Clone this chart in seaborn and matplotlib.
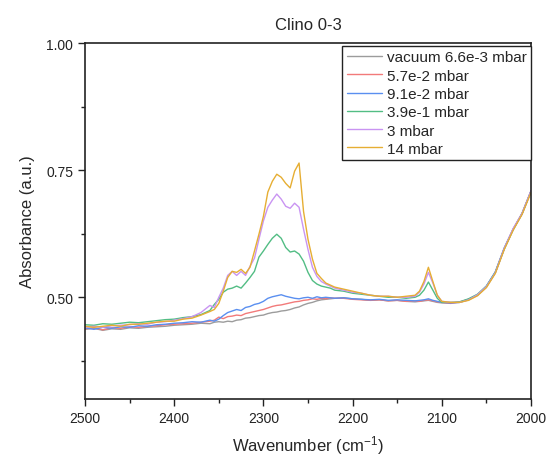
import matplotlib
matplotlib.use("Agg")
import matplotlib.pyplot as plt
from matplotlib.ticker import MultipleLocator, FixedLocator, FormatStrFormatter
import pandas as pd
import seaborn as sns

# Wavenumber grid (cm^-1), denser around the CO2 and 2115 bands
wavenumber = [2500, 2490, 2480, 2470, 2460, 2450, 2440, 2430, 2420, 2410, 2400, 2390, 2380, 2370, 2360,
              2355, 2350, 2345, 2340, 2335, 2330, 2325, 2320, 2315, 2310, 2305, 2300, 2295, 2290,
              2285, 2280, 2275, 2270, 2265, 2260, 2255, 2250, 2245, 2240, 2235, 2230, 2225, 2220,
              2210, 2200, 2190, 2180, 2170, 2160, 2150, 2140,
              2130, 2125, 2120, 2115, 2110, 2105, 2100,
              2090, 2080, 2070, 2060, 2050, 2040, 2030, 2020, 2010, 2000]

abs_vacuum = [0.437, 0.439, 0.435, 0.438, 0.437, 0.440, 0.439, 0.441, 0.442, 0.443, 0.445, 0.446, 0.447, 0.449, 0.448,
              0.451, 0.452, 0.451, 0.453, 0.452, 0.455, 0.456, 0.459, 0.460, 0.462, 0.464, 0.465, 0.468, 0.470,
              0.471, 0.473, 0.474, 0.476, 0.479, 0.481, 0.485, 0.488, 0.490, 0.493, 0.495, 0.496, 0.497, 0.498,
              0.499, 0.497, 0.496, 0.494, 0.495, 0.493, 0.494, 0.492,
              0.491, 0.492, 0.493, 0.494, 0.492, 0.490, 0.489,
              0.489, 0.490, 0.495, 0.504, 0.520, 0.548, 0.595, 0.633, 0.664, 0.708]

abs_57e2 = [0.438, 0.440, 0.436, 0.440, 0.439, 0.442, 0.441, 0.443, 0.444, 0.446, 0.447, 0.448, 0.449, 0.451, 0.453,
            0.455, 0.461, 0.458, 0.462, 0.463, 0.465, 0.464, 0.468, 0.470, 0.472, 0.474, 0.476, 0.479, 0.482,
            0.484, 0.485, 0.487, 0.489, 0.491, 0.492, 0.494, 0.495, 0.497, 0.496, 0.498, 0.497, 0.499, 0.498,
            0.498, 0.496, 0.495, 0.494, 0.495, 0.493, 0.494, 0.492,
            0.493, 0.492, 0.494, 0.495, 0.493, 0.491, 0.490,
            0.488, 0.491, 0.496, 0.505, 0.521, 0.549, 0.596, 0.634, 0.665, 0.709]

abs_91e2 = [0.440, 0.437, 0.441, 0.439, 0.442, 0.441, 0.444, 0.443, 0.446, 0.447, 0.449, 0.450, 0.452, 0.451, 0.455,
            0.453, 0.457, 0.464, 0.470, 0.473, 0.476, 0.474, 0.480, 0.482, 0.486, 0.488, 0.492, 0.498, 0.501,
            0.503, 0.505, 0.502, 0.500, 0.498, 0.497, 0.499, 0.500, 0.498, 0.501, 0.499, 0.500, 0.499, 0.498,
            0.499, 0.497, 0.496, 0.495, 0.496, 0.494, 0.495, 0.494,
            0.493, 0.494, 0.495, 0.497, 0.494, 0.492, 0.490,
            0.489, 0.490, 0.496, 0.504, 0.522, 0.550, 0.597, 0.634, 0.664, 0.709]

abs_39e1 = [0.446, 0.445, 0.448, 0.447, 0.449, 0.451, 0.450, 0.452, 0.454, 0.456, 0.457, 0.460, 0.462, 0.466, 0.474,
            0.486, 0.496, 0.510, 0.516, 0.518, 0.522, 0.518, 0.528, 0.539, 0.551, 0.579, 0.591, 0.604, 0.616,
            0.624, 0.616, 0.598, 0.589, 0.591, 0.585, 0.571, 0.549, 0.533, 0.526, 0.522, 0.520, 0.518, 0.514,
            0.512, 0.508, 0.506, 0.504, 0.502, 0.500, 0.500, 0.498,
            0.500, 0.504, 0.514, 0.530, 0.514, 0.498, 0.490,
            0.490, 0.491, 0.497, 0.506, 0.522, 0.549, 0.595, 0.633, 0.665, 0.708]

abs_3 = [0.441, 0.443, 0.441, 0.444, 0.445, 0.446, 0.448, 0.447, 0.451, 0.452, 0.455, 0.458, 0.462, 0.470, 0.484,
         0.480, 0.500, 0.518, 0.543, 0.551, 0.543, 0.551, 0.543, 0.561, 0.577, 0.614, 0.650, 0.677, 0.691,
         0.703, 0.693, 0.679, 0.675, 0.685, 0.677, 0.634, 0.594, 0.559, 0.541, 0.531, 0.526, 0.522, 0.518,
         0.514, 0.510, 0.508, 0.504, 0.502, 0.502, 0.500, 0.500,
         0.502, 0.510, 0.526, 0.549, 0.528, 0.504, 0.492,
         0.490, 0.490, 0.495, 0.505, 0.521, 0.548, 0.596, 0.635, 0.665, 0.709]

abs_14 = [0.443, 0.441, 0.443, 0.445, 0.443, 0.447, 0.447, 0.449, 0.451, 0.453, 0.453, 0.457, 0.459, 0.465, 0.472,
          0.476, 0.488, 0.512, 0.539, 0.551, 0.549, 0.555, 0.547, 0.559, 0.591, 0.624, 0.659, 0.707, 0.728,
          0.742, 0.736, 0.724, 0.715, 0.748, 0.764, 0.669, 0.614, 0.575, 0.547, 0.537, 0.528, 0.524, 0.520,
          0.516, 0.512, 0.508, 0.504, 0.502, 0.502, 0.500, 0.502,
          0.504, 0.512, 0.531, 0.559, 0.531, 0.504, 0.492,
          0.490, 0.490, 0.494, 0.503, 0.519, 0.547, 0.594, 0.632, 0.663, 0.706]

labels = ["vacuum 6.6e-3 mbar", "5.7e-2 mbar", "9.1e-2 mbar", "3.9e-1 mbar", "3 mbar", "14 mbar"]
series = [abs_vacuum, abs_57e2, abs_91e2, abs_39e1, abs_3, abs_14]
colors = ["#9c9c9c", "#f27a7a", "#5a8ff0", "#52bd84", "#c994f2", "#e6ae33"]

frames = [pd.DataFrame({"Wavenumber": wavenumber, "Absorbance": vals, "Pressure": lab})
          for lab, vals in zip(labels, series)]
df = pd.concat(frames, ignore_index=True)

sns.set_theme(style="ticks")
plt.rcParams["font.family"] = ["Liberation Sans", "DejaVu Sans"]
plt.rcParams["mathtext.default"] = "regular"

fig = plt.figure(figsize=(5.47, 4.56), dpi=100)
ax = fig.add_axes([0.1554, 0.1228, 0.8153, 0.7807])

sns.lineplot(data=df, x="Wavenumber", y="Absorbance", hue="Pressure",
             hue_order=labels, palette=dict(zip(labels, colors)),
             sort=False, estimator=None, linewidth=1.0, ax=ax)

ax.set_xlim(2500, 2000)
ax.set_ylim(0.30, 1.00)
ax.xaxis.set_major_locator(MultipleLocator(100))
ax.xaxis.set_minor_locator(MultipleLocator(50))
ax.yaxis.set_major_locator(FixedLocator([0.50, 0.75, 1.00]))
ax.yaxis.set_minor_locator(FixedLocator([0.375, 0.625, 0.875]))
ax.yaxis.set_major_formatter(FormatStrFormatter("%.2f"))

for side in ["top", "right", "bottom", "left"]:
    ax.spines[side].set_visible(True)
    ax.spines[side].set_color("#222222")
    ax.spines[side].set_linewidth(1.2)

ax.tick_params(which="major", direction="out", length=5, width=1.0, labelsize=10,
               colors="#222222", top=False, right=False)
ax.tick_params(which="minor", direction="out", length=3, width=1.0,
               colors="#222222", top=False, right=False)

ax.set_xlabel("Wavenumber (cm$^{-1}$)", fontsize=12, labelpad=6)
ax.set_ylabel("Absorbance (a.u.)", fontsize=12, labelpad=8)
ax.set_title("Clino 0-3", fontsize=12, pad=10)

leg = ax.legend(loc="upper right", bbox_to_anchor=(1.0, 0.992), borderaxespad=0,
                fontsize=11, frameon=True, fancybox=False, framealpha=1,
                edgecolor="#222222", handlelength=2.3, handletextpad=0.3,
                labelspacing=0.28, borderpad=0.3, title=None)
leg.get_frame().set_linewidth(1.0)

fig.savefig("out.png", dpi=100)
